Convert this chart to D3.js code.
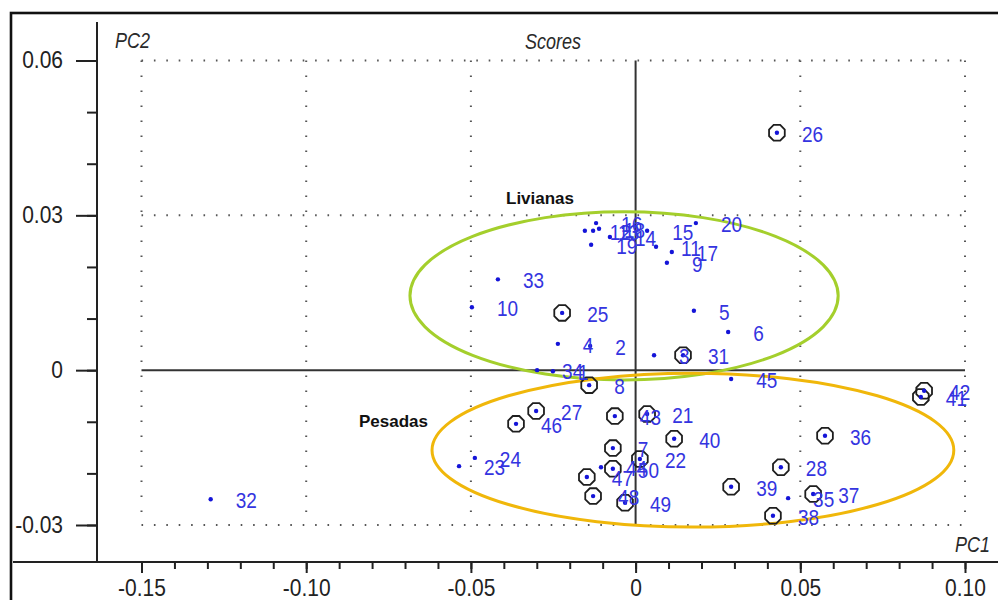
<!DOCTYPE html>
<html>
<head>
<meta charset="utf-8">
<script src="https://cdn.jsdelivr.net/npm/d3@7"></script>
<style>
  body { margin: 0; background: #fff; }
  svg { display: block; }
  .lbl { font-family: "Liberation Sans", Arial, sans-serif; font-size: 19px; fill: #3434e0; }
  .tick-lbl { font-family: "Liberation Sans", Arial, sans-serif; font-size: 21px; fill: #222; }
  .ital { font-family: "Liberation Sans", Arial, sans-serif; font-style: italic; fill: #2a2a2a; }
  .group-name { font-family: "Liberation Sans", Arial, sans-serif; font-weight: bold; font-size: 17px; fill: #111; }
</style>
</head>
<body>
<div id="wrapper"></div>
<script>
// sample ids and their scores (PC1, PC2)
const ids = [1, 2, 3, 4, 5, 6, 7, 8, 9, 10,
  11, 12, 13, 14, 15, 16, 17, 18, 19, 20,
  21, 22, 23, 24, 25, 26, 27, 28, 31, 32,
  33, 34, 35, 36, 37, 38, 39, 40, 41, 42,
  43, 44, 45, 46, 47, 48, 49, 50];
const pc1 = [-0.0251, -0.0138, 0.0056, -0.0236, 0.0177, 0.0281, -0.0069, -0.0141, 0.0095, -0.0497,
  0.0062, -0.0154, -0.0129, -0.0078, 0.0035, -0.0120, 0.0110, -0.0111, -0.0135, 0.0183,
  0.0035, 0.0013, -0.0536, -0.0488, -0.0223, 0.0429, -0.0302, 0.0441, 0.0144, -0.1290,
  -0.0418, -0.0299, 0.0463, 0.0575, 0.0539, 0.0417, 0.0290, 0.0117, 0.0866, 0.0876,
  -0.0063, -0.0105, 0.0290, -0.0363, -0.0148, -0.0129, -0.0032, -0.0069];
const pc2 = [-0.0002, 0.0047, 0.0029, 0.0051, 0.0115, 0.0074, -0.0151, -0.0029, 0.0208, 0.0122,
  0.0239, 0.0270, 0.0270, 0.0258, 0.0270, 0.0285, 0.0229, 0.0274, 0.0243, 0.0285,
  -0.0085, -0.0172, -0.0186, -0.0170, 0.0111, 0.0460, -0.0079, -0.0188, 0.0029, -0.0250,
  0.0176, 0.0000, -0.0248, -0.0127, -0.0240, -0.0282, -0.0226, -0.0133, -0.0052, -0.0040,
  -0.0089, -0.0188, -0.0017, -0.0104, -0.0207, -0.0244, -0.0257, -0.0191];
// samples marked with an octagon
const marked = [7, 8, 21, 22, 25, 26, 27, 28, 31, 36, 37, 38, 39, 40, 41, 42, 43, 46, 47, 48, 49, 50];

// group ellipses (centre and half axes in score units)
const groupNames = ["Livianas", "Pesadas"];
const groupCx = [-0.0035, 0.0174];
const groupCy = [0.0144, -0.0155];
const groupRx = [0.0650, 0.0792];
const groupRy = [0.0163, 0.0149];
const groupColors = ["#a4cf2c", "#f0b70a"];

const xTicks = [-0.15, -0.10, -0.05, 0, 0.05, 0.10];
const xTickLabels = ["-0.15", "-0.10", "-0.05", "0", "0.05", "0.10"];
const yTicks = [0.06, 0.03, 0, -0.03];
const yTickLabels = ["0.06", "0.03", "0", "-0.03"];

const dataset = ids.map((id, i) => ({
  id: id, x: pc1[i], y: pc2[i], marked: marked.includes(id)
}));

const width = 998, height = 600;

const svg = d3.select("#wrapper").append("svg")
  .attr("width", width)
  .attr("height", height);

const xScale = d3.scaleLinear().domain([-0.15, 0.10]).range([141.5, 965]);
const yScale = d3.scaleLinear().domain([-0.03, 0.06]).range([525, 60.5]);

// frame
svg.append("rect")
  .attr("x", 11).attr("y", 13)
  .attr("width", 1000).attr("height", 600)
  .attr("fill", "none").attr("stroke", "#111").attr("stroke-width", 2.6);

const axisX = 97, axisY = 562;

// dotted grid
const dotted = svg.append("g").attr("stroke", "#555").attr("stroke-width", 2);
[-0.15, -0.10, -0.05, 0.05, 0.10].forEach(v => {
  dotted.append("line")
    .attr("x1", xScale(v)).attr("x2", xScale(v))
    .attr("y1", yScale(0.06)).attr("y2", yScale(-0.03))
    .attr("stroke-dasharray", "1.6 13.4");
});
[0.06, 0.03, -0.03].forEach(v => {
  dotted.append("line")
    .attr("x1", xScale(-0.15)).attr("x2", xScale(0.10))
    .attr("y1", yScale(v)).attr("y2", yScale(v))
    .attr("stroke-dasharray", "1.6 10.8");
});

// zero lines
svg.append("line")
  .attr("x1", xScale(0)).attr("x2", xScale(0))
  .attr("y1", yScale(0.06)).attr("y2", yScale(-0.03))
  .attr("stroke", "#333").attr("stroke-width", 2);
svg.append("line")
  .attr("x1", xScale(-0.15)).attr("x2", xScale(0.10))
  .attr("y1", yScale(0)).attr("y2", yScale(0))
  .attr("stroke", "#333").attr("stroke-width", 2);

// axes
const xMinor = d3.range(-15, 11).map(d => d / 100);
const yMinor = d3.range(-3, 7).map(d => d / 100);

const xAxis = svg.append("g").attr("transform", `translate(0,${axisY})`);
xAxis.call(d3.axisBottom(xScale).tickValues(xMinor).tickSize(7).tickFormat(""));
xAxis.call(g => g.selectAll(".tick line").attr("stroke-width", 2).attr("stroke", "#222"));
const xMajor = svg.append("g").attr("transform", `translate(0,${axisY})`)
  .call(d3.axisBottom(xScale).tickValues(xTicks).tickSize(11).tickFormat((d, i) => xTickLabels[i]));
xMajor.selectAll(".tick line").attr("stroke-width", 2).attr("stroke", "#222");
xMajor.selectAll(".tick text")
  .attr("class", "tick-lbl")
  .attr("y", 0).attr("dy", 0)
  .attr("transform", "translate(0,34) scale(1,1.15)");

const yAxis = svg.append("g").attr("transform", `translate(${axisX},0)`);
yAxis.call(d3.axisLeft(yScale).tickValues(yMinor).tickSize(10).tickFormat(""));
yAxis.call(g => g.selectAll(".tick line").attr("stroke-width", 2).attr("stroke", "#222"));
const yMajor = svg.append("g").attr("transform", `translate(${axisX},0)`)
  .call(d3.axisLeft(yScale).tickValues(yTicks).tickSize(21).tickFormat((d, i) => yTickLabels[i]));
yMajor.selectAll(".tick line").attr("stroke-width", 2).attr("stroke", "#222");
yMajor.selectAll(".tick text")
  .attr("class", "tick-lbl")
  .attr("x", 0).attr("dy", 0)
  .attr("text-anchor", "end")
  .attr("transform", "translate(-34,7) scale(1,1.15)");
svg.selectAll(".domain").remove();

svg.append("line")
  .attr("x1", axisX).attr("x2", axisX).attr("y1", 22).attr("y2", axisY)
  .attr("stroke", "#222").attr("stroke-width", 2);
svg.append("line")
  .attr("x1", 13).attr("x2", width).attr("y1", axisY).attr("y2", axisY)
  .attr("stroke", "#222").attr("stroke-width", 2);

// titles
svg.append("text").attr("class", "ital").attr("font-size", 18)
  .attr("transform", "translate(115,48) scale(1,1.2)").text("PC2");
svg.append("text").attr("class", "ital").attr("font-size", 18)
  .attr("text-anchor", "middle")
  .attr("transform", "translate(553,49) scale(1,1.2)").text("Scores");
svg.append("text").attr("class", "ital").attr("font-size", 18)
  .attr("transform", "translate(955,552) scale(1,1.2)").text("PC1");

// group ellipses
groupNames.forEach((name, i) => {
  svg.append("ellipse")
    .attr("cx", xScale(groupCx[i]))
    .attr("cy", yScale(groupCy[i]))
    .attr("rx", xScale(groupCx[i] + groupRx[i]) - xScale(groupCx[i]))
    .attr("ry", yScale(groupCy[i] - groupRy[i]) - yScale(groupCy[i]))
    .attr("fill", "none")
    .attr("stroke", groupColors[i])
    .attr("stroke-width", 3);
});

svg.append("text").attr("class", "group-name").attr("x", 506).attr("y", 204).text(groupNames[0]);
svg.append("text").attr("class", "group-name").attr("x", 359).attr("y", 427).text(groupNames[1]);

// points
const octagon = d3.lineRadial()
  .angle(d => d)
  .radius(8.5)
  .curve(d3.curveLinearClosed);
const octAngles = d3.range(8).map(k => Math.PI / 8 + k * Math.PI / 4);

const points = svg.append("g");

points.selectAll(".oct")
  .data(dataset.filter(d => d.marked))
  .enter().append("path")
  .attr("class", "oct")
  .attr("d", octagon(octAngles))
  .attr("transform", d => `translate(${xScale(d.x)},${yScale(d.y)})`)
  .attr("fill", "none")
  .attr("stroke", "#1e1e1e")
  .attr("stroke-width", 1.8);

points.selectAll(".dot")
  .data(dataset)
  .enter().append("circle")
  .attr("class", "dot")
  .attr("cx", d => xScale(d.x))
  .attr("cy", d => yScale(d.y))
  .attr("r", 2.2)
  .attr("fill", "#1414d8");

points.selectAll(".lbl")
  .data(dataset)
  .enter().append("text")
  .attr("class", "lbl")
  .attr("transform", d => `translate(${xScale(d.x) + 25},${yScale(d.y) + 9}) scale(1,1.2)`)
  .text(d => d.id);
</script>
</body>
</html>
